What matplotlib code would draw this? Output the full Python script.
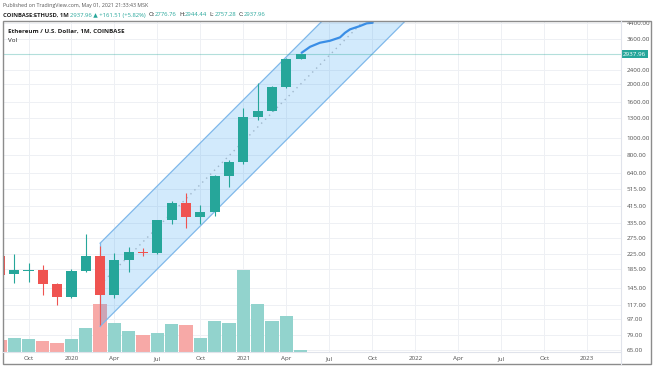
import numpy as np
import matplotlib.pyplot as plt
from matplotlib.patches import Rectangle, Polygon
from matplotlib.lines import Line2D
from matplotlib.transforms import blended_transform_factory

plt.rcParams['font.family'] = ['Open Sans', 'DejaVu Sans']

# monthly candles, Aug 2019 .. May 2021 (index 0 = Aug 2019)
months = ["2019-08", "2019-09", "2019-10", "2019-11", "2019-12", "2020-01", "2020-02",
          "2020-03", "2020-04", "2020-05", "2020-06", "2020-07", "2020-08", "2020-09",
          "2020-10", "2020-11", "2020-12", "2021-01", "2021-02", "2021-03", "2021-04", "2021-05"]
opens = [218, 173, 180, 183, 152, 129, 180, 219, 133, 207, 231, 226, 346, 434,
         360, 386, 614, 736, 1315, 1418, 1919, 2776.76]
highs = [228, 224, 199, 195, 155, 186, 290, 250, 228, 246, 241, 348, 445, 490,
         420, 623, 755, 1470, 2040, 1945, 2800, 2944.44]
lows = [166, 154, 157, 132, 117, 127, 178, 90, 128, 178, 220, 225, 330, 312,
        332, 365, 533, 712, 1262, 1420, 1915, 2757.28]
closes = [172, 182, 182, 152, 129, 180, 219, 133, 207, 231, 226, 346, 434, 360,
          386, 614, 736, 1315, 1419, 1919, 2776, 2937.96]
volumes = [1180, 1390, 1290, 1060, 860, 1260, 2390, 4830, 2900, 2140, 1670, 1940,
           2840, 2700, 1400, 3100, 2940, 8240, 4840, 3070, 3640, 170]

# parallel channel (start/end month index, upper and lower price)
channel_x = [7, 30]
channel_upper = [258, 18060]
channel_lower = [88.5, 6188]

# hand-drawn projection path
path_x = [21.06, 21.65, 22.34, 23.04, 23.74, 24.09, 24.44, 25.13, 25.6, 26.02]
path_price = [2998, 3238, 3412, 3500, 3656, 3880, 4055, 4230, 4380, 4415]

last_price = 2937.96
price_ticks = [65, 79, 97, 117, 145, 185, 225, 275, 335, 415, 515, 640, 800,
               1000, 1300, 1600, 2000, 2400, 3600, 4400]
time_ticks = [2, 5, 8, 11, 14, 17, 20, 23, 26, 29, 32, 35, 38, 41]
time_labels = ["Oct", "2020", "Apr", "Jul", "Oct", "2021", "Apr", "Jul", "Oct",
               "2022", "Apr", "Jul", "Oct", "2023"]

UP = '#26a69a'
DOWN = '#ef5350'
W, H = 654, 366


def fx(px):
    return px / W


def fy(py):
    return (H - py) / H


fig = plt.figure(figsize=(W / 100, H / 100), dpi=100)
ax = fig.add_axes([fx(4), fy(352), fx(621) - fx(4), fy(21) - fy(352)])
ax.set_yscale('log')
ax.set_xlim(0.29, 43.35)
ax.set_ylim(63.46, 4515)

x = np.arange(len(months))
up = np.array(closes) >= np.array(opens)

# grid
for t in time_ticks:
    ax.axvline(t, color='#eef0f4', lw=0.7, zorder=0)
for p in price_ticks:
    ax.axhline(p, color='#eef0f4', lw=0.7, zorder=0)

# volume bars, bottom quarter of the pane
trans = blended_transform_factory(ax.transData, ax.transAxes)
vol_top = max(volumes) * 4.02
for i, v in enumerate(volumes):
    c = '#92d3cd' if up[i] else '#f7a9a7'
    ax.add_patch(Rectangle((x[i] - 0.465, 0), 0.93, v / vol_top, transform=trans,
                           facecolor=c, edgecolor='none', zorder=1))

# channel
cx = np.array(channel_x, dtype=float)
poly = Polygon(list(zip(cx, channel_upper)) + list(zip(cx[::-1], channel_lower[::-1])),
               closed=True, facecolor='#2196f3', alpha=0.2, edgecolor='none', zorder=2)
ax.add_patch(poly)
ax.plot(cx, channel_upper, color='#7fb8ea', lw=0.9, zorder=2)
ax.plot(cx, channel_lower, color='#7fb8ea', lw=0.9, zorder=2)
ax.plot([cx[0], cx[0]], [channel_lower[0], channel_upper[0]], color='#7fb8ea', lw=0.9, zorder=2)
mid = np.sqrt(np.array(channel_upper) * np.array(channel_lower))
ax.plot(cx, mid, color='#9fb7cc', lw=1.0, ls=(0, (1, 3)), zorder=2)

# price line
ax.axhline(last_price, color='#26a69a', alpha=0.35, lw=0.8, zorder=2)

# candles
colors = [UP if u else DOWN for u in up]
ax.vlines(x, lows, highs, colors=colors, lw=0.8, zorder=3)
bottoms = np.minimum(opens, closes)
heights = np.maximum(np.abs(np.array(closes) - np.array(opens)), bottoms * 0.012)
ax.bar(x, heights, bottom=bottoms, width=0.7, color=colors, zorder=4)

# projection path
ax.plot(path_x, path_price, color='#3a8ee6', lw=1.6, solid_capstyle='round', zorder=5)

# axes styling
for s in ax.spines.values():
    s.set_visible(False)
ax.yaxis.tick_right()
ax.set_yticks(price_ticks)
ax.set_yticklabels(['%.2f' % p for p in price_ticks])
ax.yaxis.set_minor_locator(plt.NullLocator())
ax.set_xticks(time_ticks)
ax.set_xticklabels(time_labels)
ax.tick_params(axis='y', length=0, pad=4, labelsize=4.5, labelcolor='#505050')
ax.tick_params(axis='x', length=0, pad=3, labelsize=4.5, labelcolor='#505050')
ax.set_facecolor('none')

# last price label on the scale
ax.annotate('%.2f' % last_price, xy=(1, last_price), xycoords=('axes fraction', 'data'),
            xytext=(1.5, 0), textcoords='offset points', ha='left', va='center',
            fontsize=4.5, color='white',
            bbox=dict(boxstyle='square,pad=0.25', fc=UP, ec='none'))

# frame and separators
fig.add_artist(Rectangle((fx(3), fy(364)), fx(651) - fx(3), fy(21) - fy(364),
                         transform=fig.transFigure, fill=False, ec='#8c8c8c', lw=1.0))
fig.add_artist(Line2D([fx(621), fx(621)], [fy(364), fy(21)], transform=fig.transFigure,
                      color='#e0e3eb', lw=0.8))
fig.add_artist(Line2D([fx(3), fx(621)], [fy(352), fy(352)], transform=fig.transFigure,
                      color='#e0e3eb', lw=0.8))

# header text
fig.text(fx(3), fy(5), 'Published on TradingView.com, May 01, 2021 21:33:43 MSK',
         fontsize=3.8, color='#555555', va='center', ha='left')
t = fig.text(fx(3), fy(15), 'COINBASE:ETHUSD, 1M ', fontsize=4.2, color='#222222',
             fontweight='bold', va='center', ha='left')
fig.canvas.draw()
r = fig.canvas.get_renderer()
bb = t.get_window_extent(r)
t2 = fig.text(bb.x1 / W, fy(15), '2937.96 ▲ +161.51 (+5.82%)', fontsize=4.2,
              color='#26a69a', va='center', ha='left')
bb = t2.get_window_extent(r)
pos = bb.x1 / W + 0.004
for lab, val in [('O:', '2776.76'), ('H:', '2944.44'), ('L:', '2757.28'), ('C:', '2937.96')]:
    a = fig.text(pos, fy(15), lab, fontsize=4.2, color='#222222', va='center', ha='left')
    bb = a.get_window_extent(r)
    b = fig.text(bb.x1 / W, fy(15), val, fontsize=4.2, color='#26a69a', va='center', ha='left')
    bb = b.get_window_extent(r)
    pos = bb.x1 / W + 0.004

fig.text(fx(8), fy(31), 'Ethereum / U.S. Dollar, 1M, COINBASE', fontsize=4.5,
         fontweight='bold', color='#222222', va='center', ha='left')
fig.text(fx(8), fy(40), 'Vol', fontsize=4.5, color='#222222', va='center', ha='left')

fig.savefig('out.png', dpi=100, facecolor='white')
